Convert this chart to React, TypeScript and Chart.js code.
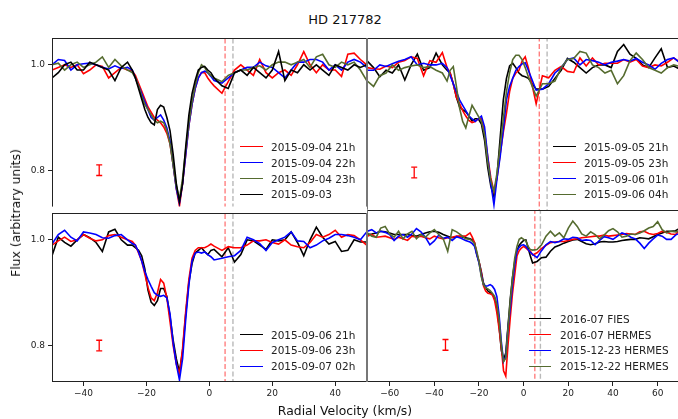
import React, { useEffect, useRef } from "react";
import { Chart, registerables } from "chart.js";

Chart.register(...registerables);

// ---- velocity grids (km/s) ----
// panels spanning -50..50 km/s: coarse wings, finer sampling through the line core
const VEL_A = [
  -50, -48, -46, -44, -42, -40, -38, -36, -34, -32, -30, -28, -26,
  -24.5, -23.5, -22.5, -21.5, -20.5, -19.5, -18.5, -17.5, -16.5, -15.5, -14.5, -13.5, -12.5, -11.5,
  -10.5, -9.5, -8.5, -7.5, -6.5, -5.5, -4.5, -3.5, -2.5, -1.5, -0.5, 0.5, 1.5,
  4, 6, 8, 10, 12, 14, 16, 18, 20, 22, 24, 26, 28, 30, 32, 34, 36, 38, 40, 42, 44, 46, 48, 50,
];
// panel spanning -70..70 km/s
const VEL_B = [
  -70, -68, -66, -64, -62, -60, -58, -56, -54, -52, -50, -48, -46, -44, -42, -40, -38, -36, -34, -32, -30, -28, -26, -24,
  -23, -22, -21, -20, -19, -18, -17, -16, -15, -14, -13, -12, -11, -10, -9, -8, -7, -6, -5, -4, -3, -2, -1, 0, 1, 2, 3, 4,
  6, 8, 10, 12, 14, 16, 18, 20, 22, 24, 26, 28, 30, 32, 34, 36, 38, 40, 42, 44, 46, 48, 50, 52, 54, 56, 58, 60, 62, 64, 66, 68, 70,
];

// ---- normalised flux, 2015-09-03 / 04 ----
const F_0904_21 = [
  0.99, 0.995, 1.0, 0.995, 1.0, 0.983, 0.99, 1.0, 0.997, 0.975, 0.985, 0.995, 0.99,
  0.988, 0.98, 0.965, 0.95, 0.935, 0.92, 0.91, 0.9, 0.895, 0.89, 0.882, 0.87, 0.85, 0.81,
  0.765, 0.732, 0.775, 0.83, 0.885, 0.925, 0.955, 0.975, 0.985, 0.985, 0.975, 0.967, 0.96,
  0.946, 0.968, 0.99, 1.0, 0.99, 0.98, 1.01, 0.985, 0.975, 0.985, 0.99, 0.98, 1.0, 1.025, 1.0, 0.985, 1.0, 0.99, 0.99, 0.978, 1.02, 1.022, 1.01, 1.0,
];
const F_0904_22 = [
  1.0, 1.01, 1.008, 0.99, 1.0, 1.002, 1.003, 1.0, 0.995, 0.992, 0.998, 0.993, 0.995,
  0.99, 0.975, 0.96, 0.945, 0.93, 0.915, 0.9, 0.895, 0.9, 0.905, 0.895, 0.88, 0.855, 0.81,
  0.765, 0.738, 0.775, 0.83, 0.885, 0.925, 0.955, 0.975, 0.985, 0.988, 0.985, 0.978, 0.97,
  0.965, 0.975, 0.985, 0.99, 0.995, 0.995, 1.005, 0.998, 0.995, 0.985, 0.975, 0.99, 1.005, 1.005, 1.01, 1.01, 1.005, 0.99, 1.0, 0.99, 1.005, 1.01, 1.005, 0.995,
];
const F_0904_23 = [
  1.0, 1.003, 0.99, 1.0, 1.005, 0.995, 1.0, 1.005, 1.015, 0.995, 1.01, 0.998, 0.99,
  0.985, 0.975, 0.96, 0.94, 0.925, 0.915, 0.905, 0.895, 0.89, 0.893, 0.89, 0.875, 0.85, 0.81,
  0.77, 0.745, 0.785, 0.84, 0.89, 0.93, 0.96, 0.985, 1.0, 0.995, 0.985, 0.98, 0.975,
  0.968, 0.98, 0.985, 0.99, 0.99, 0.995, 0.998, 0.99, 1.0, 1.005, 1.005, 1.0, 1.005, 1.01, 0.995, 1.015, 1.02, 1.0, 0.995, 1.005, 1.0, 1.005, 0.99, 0.97,
];
const F_0903 = [
  0.975, 0.985, 1.0, 1.005, 0.99, 0.99, 1.005, 1.0, 0.995, 0.99, 0.97, 0.995, 1.005,
  0.99, 0.975, 0.955, 0.935, 0.915, 0.9, 0.89, 0.886, 0.915, 0.923, 0.92, 0.9, 0.875, 0.83,
  0.775, 0.74, 0.775, 0.845, 0.905, 0.945, 0.97, 0.99, 0.995, 0.997, 0.99, 0.985, 0.975,
  0.96, 0.955, 0.985, 0.99, 0.98, 0.995, 0.985, 0.975, 0.99, 1.025, 0.97, 0.99, 0.985, 1.0, 0.99, 1.0, 0.99, 0.98, 1.0, 0.995, 0.99, 1.0, 0.995, 1.0,
];

// ---- 2015-09-05 / 06 ----
const F_0905_21 = [
  1.007, 0.995, 0.978, 0.99, 0.985, 1.0, 0.972, 1.0, 1.02, 0.99, 0.995, 1.022, 1.0,
  0.99, 0.985, 0.965, 0.94, 0.922, 0.917, 0.913, 0.905, 0.896, 0.9, 0.9, 0.89, 0.86, 0.81,
  0.775, 0.755, 0.795, 0.865, 0.935, 0.975, 0.998, 1.003, 0.995, 0.985, 0.98, 0.978, 0.975,
  0.955, 0.955, 0.96, 0.975, 0.99, 1.012, 1.005, 0.995, 0.985, 0.995, 1.0, 1.0, 0.995, 1.025, 1.038, 1.02, 1.012, 1.0, 0.995, 1.013, 1.03, 0.995, 0.998, 0.992,
];
const F_0905_23 = [
  0.995, 0.993, 0.992, 0.998, 0.995, 1.005, 1.008, 1.015, 1.012, 0.98, 1.008, 1.005, 1.023,
  0.995, 0.985, 0.965, 0.94, 0.928, 0.915, 0.905, 0.897, 0.893, 0.895, 0.9, 0.9, 0.875, 0.83,
  0.79, 0.765, 0.79, 0.835, 0.875, 0.91, 0.95, 0.975, 0.985, 0.99, 1.007, 1.015, 0.995,
  0.928, 0.98, 0.976, 0.99, 0.997, 0.988, 0.986, 1.013, 0.998, 1.013, 1.0, 1.003, 1.003, 1.003, 1.01, 1.005, 1.01, 0.998, 0.995, 1.0, 0.998, 1.005, 1.013, 1.005,
];
const F_0906_01 = [
  0.99, 0.99, 1.0, 0.997, 1.002, 1.007, 1.01, 1.015, 1.0, 1.003, 1.0, 1.0, 1.003,
  0.995, 0.98, 0.965, 0.95, 0.935, 0.925, 0.915, 0.905, 0.9, 0.895, 0.9, 0.905, 0.885, 0.83,
  0.78, 0.74, 0.79, 0.83, 0.88, 0.935, 0.96, 0.975, 0.99, 0.997, 1.002, 1.004, 0.99,
  0.953, 0.955, 0.965, 0.985, 0.995, 1.01, 1.013, 1.0, 1.01, 1.008, 1.005, 1.0, 1.005, 1.007, 1.01, 1.007, 1.012, 1.005, 1.0, 0.992, 1.003, 1.01, 1.013, 1.004,
];
const F_0906_04 = [
  0.97, 0.96, 0.98, 0.985, 1.0, 0.99, 0.995, 0.998, 1.0, 0.995, 0.997, 0.99, 0.985,
  0.97, 0.99, 0.997, 0.96, 0.92, 0.895, 0.883, 0.905, 0.925, 0.915, 0.905, 0.895, 0.87, 0.82,
  0.785, 0.765, 0.8, 0.85, 0.9, 0.95, 0.985, 1.01, 1.018, 1.018, 1.01, 0.995, 0.978,
  0.942, 0.965, 0.965, 0.97, 0.995, 1.01, 1.012, 1.025, 1.022, 1.0, 0.995, 0.985, 0.99, 0.965, 0.98, 1.008, 1.022, 1.01, 0.995, 0.99, 0.985, 0.995, 1.0, 0.997,
];

// ---- 2015-09-06 / 07 ----
const F_0906_21 = [
  0.97, 1.005, 0.995, 0.988, 1.0, 1.01, 1.004, 0.995, 0.978, 1.015, 1.02, 1.0, 0.99,
  0.99, 0.985, 0.98, 0.97, 0.945, 0.905, 0.882, 0.876, 0.885, 0.908, 0.908, 0.893, 0.855, 0.81,
  0.775, 0.75, 0.79, 0.86, 0.92, 0.955, 0.975, 0.98, 0.985, 0.978, 0.972, 0.98, 0.982,
  0.968, 0.985, 0.958, 0.972, 1.0, 0.998, 0.99, 0.982, 1.0, 0.998, 1.0, 1.015, 0.995, 0.97, 1.0, 1.024, 1.005, 0.992, 0.997, 0.978, 0.98, 1.0, 0.996, 0.996,
];
const F_0906_23 = [
  0.99, 0.998, 1.005, 0.997, 1.0, 1.01, 1.003, 0.998, 1.0, 1.008, 1.01, 1.005, 1.0,
  0.997, 0.99, 0.975, 0.96, 0.935, 0.91, 0.89, 0.885, 0.9, 0.925, 0.918, 0.89, 0.845, 0.8,
  0.765, 0.745, 0.795, 0.865, 0.925, 0.965, 0.98, 0.985, 0.985, 0.985, 0.988, 0.992, 0.988,
  0.98, 0.987, 0.985, 0.985, 0.99, 0.998, 0.998, 1.0, 0.995, 0.992, 1.0, 0.99, 0.987, 0.985, 0.995, 1.01, 1.005, 1.01, 1.018, 1.005, 1.01, 1.008, 1.0, 0.99,
];
const F_0907_02 = [
  0.992, 1.01, 1.018, 1.005, 0.998, 1.015, 1.013, 1.01, 1.004, 1.003, 1.008, 1.01, 1.0,
  0.993, 0.99, 0.977, 0.96, 0.94, 0.925, 0.912, 0.9, 0.895, 0.893, 0.895, 0.89, 0.86, 0.805,
  0.765, 0.735, 0.775, 0.85, 0.915, 0.96, 0.975, 0.977, 0.975, 0.977, 0.972, 0.968, 0.962,
  0.965, 0.968, 0.97, 0.98, 1.005, 1.0, 0.993, 0.98, 0.995, 1.0, 1.005, 1.015, 0.998, 0.997, 0.985, 0.99, 0.998, 1.003, 1.01, 1.01, 1.008, 1.005, 1.0, 1.015,
];

// ---- long-baseline comparison (FIES / HERMES) ----
const F_1607_FIES = [
  1.005, 1.006, 1.008, 1.011, 1.01, 1.008, 1.005, 1.005, 1.005, 1.005, 1.003, 1.002, 1.005, 1.008, 1.01, 1.011, 1.009, 1.005, 1.002, 0.999, 1.001, 1.001, 0.999, 0.997,
  0.995, 0.99, 0.968, 0.955, 0.937, 0.915, 0.907, 0.9, 0.897, 0.893, 0.888, 0.87, 0.835, 0.79, 0.772, 0.785, 0.835, 0.885, 0.925, 0.955, 0.975, 0.985, 0.99, 0.994, 0.995, 0.98, 0.965, 0.952,
  0.955, 0.962, 0.963, 0.974, 0.982, 0.985, 0.989, 0.992, 0.995, 0.996, 0.992, 0.988, 0.986, 0.988, 0.991, 0.992, 0.991, 0.991, 0.992, 0.994, 0.995, 0.996, 0.996, 0.999, 0.998, 0.997, 1.001, 1.005, 1.008, 1.011, 1.011, 1.012, 1.017,
];
const F_1607_HERMES = [
  1.002, 1.005, 1.0, 1.001, 1.002, 0.999, 0.996, 1.0, 0.997, 0.994, 1.002, 1.0, 1.002, 0.999, 0.997, 1.002, 0.999, 0.997, 0.999, 1.0, 1.002, 1.002, 1.002, 1.008,
  1.0, 0.99, 0.97, 0.955, 0.935, 0.91, 0.9, 0.896, 0.895, 0.893, 0.882, 0.86, 0.83, 0.795, 0.752, 0.742, 0.8, 0.85, 0.895, 0.93, 0.965, 0.975, 0.98, 0.983, 0.98, 0.976, 0.974, 0.967,
  0.971, 0.979, 0.985, 0.99, 0.991, 0.992, 0.992, 0.994, 0.996, 0.997, 0.999, 1.0, 1.001, 1.002, 1.002, 1.004, 1.002, 1.003, 1.004, 1.005, 1.007, 1.006, 1.005, 1.01, 1.011, 1.007, 1.005, 1.007, 1.011, 1.009, 1.006, 1.005, 1.014,
];
const F_1512_23 = [
  1.011, 1.014, 1.008, 1.011, 1.009, 1.005, 0.994, 1.002, 1.005, 1.0, 1.006, 1.016, 1.01, 1.0, 0.986, 0.993, 1.004, 0.998, 1.0, 0.994, 1.001, 0.998, 0.994, 0.991,
  0.988, 0.983, 0.968, 0.952, 0.93, 0.912, 0.909, 0.91, 0.912, 0.909, 0.903, 0.89, 0.856, 0.806, 0.769, 0.778, 0.831, 0.868, 0.912, 0.949, 0.974, 0.981, 0.985, 0.986, 0.983, 0.977, 0.972, 0.968,
  0.962, 0.975, 0.986, 0.992, 0.99, 0.992, 0.997, 0.996, 1.0, 0.999, 0.994, 0.995, 0.994, 0.986, 0.994, 1.001, 0.999, 0.996, 1.002, 1.008, 1.005, 1.0, 0.997, 0.989, 0.979, 0.989, 0.997, 1.004, 1.002, 0.996, 0.996, 1.004, 1.008,
];
const F_1512_22 = [
  1.008, 1.002, 1.0, 1.017, 1.02, 1.006, 1.0, 1.011, 0.997, 1.006, 1.011, 0.997, 1.005, 1.0, 1.008, 1.014, 1.005, 0.997, 0.974, 1.014, 1.01, 1.004, 0.997, 0.996,
  0.993, 0.988, 0.974, 0.955, 0.927, 0.912, 0.906, 0.904, 0.901, 0.896, 0.89, 0.875, 0.847, 0.8, 0.769, 0.775, 0.831, 0.881, 0.924, 0.961, 0.983, 0.996, 0.999, 0.996, 0.993, 0.983, 0.977, 0.976,
  0.977, 0.986, 1.002, 1.011, 1.002, 1.008, 0.999, 1.017, 1.03, 1.02, 1.006, 1.002, 1.01, 1.005, 0.997, 1.004, 1.012, 1.016, 1.01, 1.0, 1.002, 1.006, 1.005, 1.008, 1.012, 1.017, 1.02, 1.029, 1.014, 1.008, 1.011, 1.01, 1.012,
];

// ---- axes ----
const X_RANGE_A = [-50, 50];
const X_RANGE_B = [-70, 70];
const X_TICKS_A = [-40, -20, 0, 20, 40];
const X_TICKS_B = [-60, -40, -20, 0, 20, 40, 60];
const Y_RANGE = [0.731, 1.05];
const Y_TICKS = [0.8, 1.0];

// reference velocities (km/s) and the typical flux uncertainty bar
const REF_RED_V = 5;
const REF_GRAY_V = 7.5;
const ERR_V = -35;
const ERR_F = 0.8;
const ERR_SIZE = 0.01;

const RED = "#ff0000";
const BLUE = "#0000ff";
const OLIVE = "#556b2f";
const BLACK = "#000000";
const FONT = "'DejaVu Sans', 'Liberation Sans', sans-serif";
const INK = "#222222";

type Series = { label: string; color: string; values: number[] };
type Panel = {
  key: string;
  box: { left: number; top: number; width: number; height: number };
  padding: { left: number; top: number; right: number; bottom: number };
  showX: boolean;
  showY: boolean;
  vel: number[];
  xRange: number[];
  xTicks: number[];
  series: Series[];
  edges: { top: boolean; bottom: boolean; left: string | null; right: string | null };
  legend: { x1: number; x2: number; xt: number; rows: number[] };
};

const PANELS: Panel[] = [
  {
    key: "tl",
    box: { left: 0, top: 30, width: 372, height: 185 },
    padding: { left: 0, top: 8, right: 5, bottom: 5 },
    showX: false,
    showY: true,
    vel: VEL_A,
    xRange: X_RANGE_A,
    xTicks: X_TICKS_A,
    series: [
      { label: "2015-09-04 21h", color: RED, values: F_0904_21 },
      { label: "2015-09-04 22h", color: BLUE, values: F_0904_22 },
      { label: "2015-09-04 23h", color: OLIVE, values: F_0904_23 },
      { label: "2015-09-03", color: BLACK, values: F_0903 },
    ],
    edges: { top: true, bottom: false, left: INK, right: "#777" },
    legend: { x1: 240, x2: 263, xt: 271, rows: [147, 162.8, 178.6, 194.4] },
  },
  {
    key: "tr",
    box: { left: 362, top: 30, width: 330, height: 185 },
    padding: { left: 5, top: 8, right: 12, bottom: 5 },
    showX: false,
    showY: false,
    vel: VEL_A,
    xRange: X_RANGE_A,
    xTicks: X_TICKS_A,
    series: [
      { label: "2015-09-05 21h", color: BLACK, values: F_0905_21 },
      { label: "2015-09-05 23h", color: RED, values: F_0905_23 },
      { label: "2015-09-06 01h", color: BLUE, values: F_0906_01 },
      { label: "2015-09-06 04h", color: OLIVE, values: F_0906_04 },
    ],
    edges: { top: true, bottom: false, left: "#777", right: INK },
    legend: { x1: 553, x2: 576, xt: 584, rows: [147, 162.8, 178.6, 194.4] },
  },
  {
    key: "bl",
    box: { left: 0, top: 205, width: 372, height: 205 },
    padding: { left: 0, top: 5, right: 5, bottom: 0 },
    showX: true,
    showY: true,
    vel: VEL_A,
    xRange: X_RANGE_A,
    xTicks: X_TICKS_A,
    series: [
      { label: "2015-09-06 21h", color: BLACK, values: F_0906_21 },
      { label: "2015-09-06 23h", color: RED, values: F_0906_23 },
      { label: "2015-09-07 02h", color: BLUE, values: F_0907_02 },
    ],
    edges: { top: true, bottom: true, left: INK, right: "#777" },
    legend: { x1: 240, x2: 263, xt: 271, rows: [334.5, 350.4, 366.3] },
  },
  {
    key: "br",
    box: { left: 362, top: 205, width: 330, height: 205 },
    padding: { left: 5, top: 5, right: 12, bottom: 0 },
    showX: true,
    showY: false,
    vel: VEL_B,
    xRange: X_RANGE_B,
    xTicks: X_TICKS_B,
    series: [
      { label: "2016-07 FIES", color: BLACK, values: F_1607_FIES },
      { label: "2016-07 HERMES", color: RED, values: F_1607_HERMES },
      { label: "2015-12-23 HERMES", color: BLUE, values: F_1512_23 },
      { label: "2015-12-22 HERMES", color: OLIVE, values: F_1512_22 },
    ],
    edges: { top: true, bottom: true, left: "#777", right: INK },
    legend: { x1: 529, x2: 551, xt: 560, rows: [318.7, 334.5, 350.4, 366.3] },
  },
];

const fmtX = (v: number) => (v < 0 ? "\u2212" + Math.abs(v) : String(v));

// axes frame, drawn over the curves
const framePlugin = {
  id: "panelFrame",
  afterDatasetsDraw(chart: any, _args: any, opts: any) {
    const { ctx, chartArea: a } = chart;
    const e = opts.edges;
    ctx.save();
    ctx.lineWidth = 1;
    const seg = (x1: number, y1: number, x2: number, y2: number, c: string) => {
      ctx.strokeStyle = c;
      ctx.beginPath();
      ctx.moveTo(x1, y1);
      ctx.lineTo(x2, y2);
      ctx.stroke();
    };
    const L = Math.round(a.left) + 0.5;
    const R = Math.round(a.right) - 0.5;
    const T = Math.round(a.top) + 0.5;
    const B = Math.round(a.bottom) - 0.5;
    if (e.top) seg(a.left, T, a.right, T, INK);
    if (e.bottom) seg(a.left, B, a.right, B, INK);
    if (e.left) seg(L, a.top, L, a.bottom, e.left);
    if (e.right) seg(R, a.top, R, a.bottom, e.right);
    ctx.restore();
  },
};

function buildConfig(p: Panel): any {
  const vline = (v: number, color: string) => ({
    data: [
      { x: v, y: 0.5 },
      { x: v, y: 1.5 },
    ],
    borderColor: color,
    borderWidth: 1.4,
    borderDash: [5, 2.5],
    pointRadius: 0,
    clip: 0,
    order: 100,
  });
  const n = p.series.length;
  const datasets: any[] = [
    vline(REF_RED_V, "rgba(255,0,0,0.5)"),
    vline(REF_GRAY_V, "rgba(128,128,128,0.55)"),
    ...p.series.map((s, i) => ({
      label: s.label,
      data: p.vel.map((v, k) => ({ x: v, y: s.values[k] })),
      borderColor: s.color,
      borderWidth: 1.6,
      pointRadius: 0,
      tension: 0,
      clip: 0,
      order: n - i + 1,
    })),
    {
      data: [
        { x: ERR_V, y: ERR_F - ERR_SIZE },
        { x: ERR_V, y: ERR_F + ERR_SIZE },
      ],
      borderColor: RED,
      borderWidth: 1.3,
      pointStyle: "line",
      pointRadius: 3,
      pointBorderColor: RED,
      pointBorderWidth: 1.3,
      clip: 0,
      order: 0,
    },
  ];

  const xAxis: any = {
    type: "linear",
    min: p.xRange[0],
    max: p.xRange[1],
    display: p.showX,
    afterBuildTicks: (s: any) => {
      s.ticks = p.xTicks.map((v) => ({ value: v }));
    },
    ticks: {
      callback: (v: number) => fmtX(v),
      color: INK,
      font: { family: FONT, size: 9 },
      padding: 2,
      maxRotation: 0,
      autoSkip: false,
    },
    grid: { display: true, drawOnChartArea: false, drawTicks: true, tickLength: 4, color: INK, lineWidth: 1 },
    border: { display: false },
  };
  if (p.showX) {
    xAxis.afterFit = (s: any) => {
      s.height = 28;
    };
  }

  const yAxis: any = {
    type: "linear",
    min: Y_RANGE[0],
    max: Y_RANGE[1],
    display: p.showY,
    afterBuildTicks: (s: any) => {
      s.ticks = Y_TICKS.map((v) => ({ value: v }));
    },
    ticks: {
      callback: (v: number) => v.toFixed(1),
      color: INK,
      font: { family: FONT, size: 9 },
      padding: 3,
    },
    grid: { display: true, drawOnChartArea: false, drawTicks: true, tickLength: 4, color: INK, lineWidth: 1 },
    border: { display: false },
  };
  if (p.showY) {
    yAxis.afterFit = (s: any) => {
      s.width = 52;
    };
  }

  return {
    type: "line",
    data: { datasets },
    plugins: [framePlugin],
    options: {
      animation: false,
      responsive: false,
      devicePixelRatio: 1,
      events: [],
      layout: { padding: p.padding },
      plugins: {
        legend: { display: false },
        tooltip: { enabled: false },
        panelFrame: { edges: p.edges },
      },
      scales: { x: xAxis, y: yAxis },
    },
  };
}

function PanelChart({ p }: { p: Panel }) {
  const ref = useRef<HTMLCanvasElement | null>(null);
  useEffect(() => {
    if (!ref.current) return;
    const chart = new Chart(ref.current, buildConfig(p));
    return () => chart.destroy();
  }, [p]);
  return (
    <canvas
      ref={ref}
      width={p.box.width}
      height={p.box.height}
      style={{
        position: "absolute",
        left: p.box.left,
        top: p.box.top,
        width: p.box.width,
        height: p.box.height,
      }}
    />
  );
}

function Legend({ p }: { p: Panel }) {
  return (
    <>
      {p.series.map((s, i) => {
        const y = p.legend.rows[i];
        return (
          <React.Fragment key={s.label}>
            <div
              style={{
                position: "absolute",
                left: p.legend.x1,
                top: y - 0.75,
                width: p.legend.x2 - p.legend.x1,
                height: 0,
                borderTop: `1.6px solid ${s.color}`,
              }}
            />
            <div
              style={{
                position: "absolute",
                left: p.legend.xt,
                top: y - 6,
                height: 12,
                lineHeight: "12px",
                fontSize: "10.5px",
                fontFamily: FONT,
                color: INK,
                whiteSpace: "nowrap",
              }}
            >
              {s.label}
            </div>
          </React.Fragment>
        );
      })}
    </>
  );
}

export default function App() {
  return (
    <div
      style={{
        position: "absolute",
        left: 0,
        top: 0,
        width: 678,
        height: 419,
        overflow: "hidden",
        background: "#ffffff",
        fontFamily: FONT,
      }}
    >
      {PANELS.map((p) => (
        <PanelChart key={p.key} p={p} />
      ))}
      {PANELS.map((p) => (
        <Legend key={"lg-" + p.key} p={p} />
      ))}
      <div
        style={{
          position: "absolute",
          left: 0,
          top: 13,
          width: 690,
          textAlign: "center",
          fontSize: "13px",
          lineHeight: "14px",
          color: "#111",
        }}
      >
        HD 217782
      </div>
      <div
        style={{
          position: "absolute",
          left: 0,
          top: 404,
          width: 690,
          textAlign: "center",
          fontSize: "12.4px",
          lineHeight: "14px",
          color: "#111",
        }}
      >
        Radial Velocity (km/s)
      </div>
      <div
        style={{
          position: "absolute",
          left: 16,
          top: 213,
          transform: "translate(-50%, -50%) rotate(-90deg)",
          whiteSpace: "nowrap",
          fontSize: "12.4px",
          lineHeight: "14px",
          color: "#111",
        }}
      >
        Flux (arbitrary units)
      </div>
    </div>
  );
}
